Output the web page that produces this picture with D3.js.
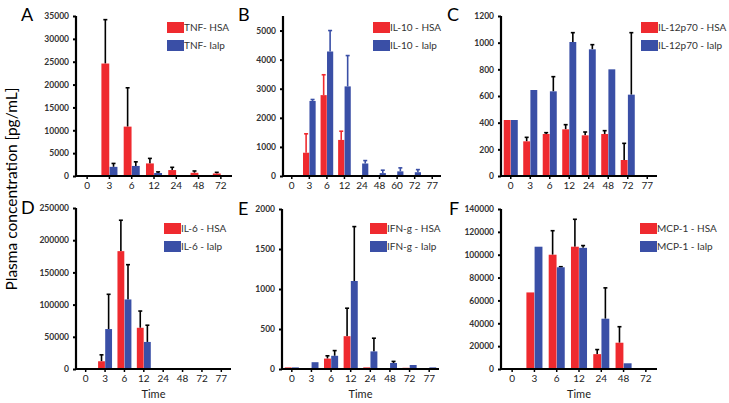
<!DOCTYPE html>
<html><head><meta charset="utf-8">
<script src="https://cdn.jsdelivr.net/npm/d3@7"></script>
<style>body{margin:0;background:#fff}svg{display:block}</style>
</head><body>
<svg id="c" width="729" height="403"></svg>
<script>
// ---- Data ----
const catsA = ["0","3","6","12","24","48","72"];
const tnfHSA = [0, 24600, 10800, 2750, 1300, 700, 550];
const tnfHSAErr = [0, 9600, 8500, 1100, 600, 400, 250];
const tnfIalp = [0, 2000, 2200, 650, 0, 0, 0];
const tnfIalpErr = [0, 750, 900, 250, 0, 0, 0];

const catsB = ["0","3","6","12","24","48","60","72","77"];
const il10HSA = [0, 800, 2780, 1240, 0, 0, 0, 0, 0];
const il10HSAErr = [0, 650, 700, 300, 0, 0, 0, 0, 0];
const il10Ialp = [0, 2580, 4280, 3080, 430, 100, 160, 130, 0];
const il10IalpErr = [0, 50, 720, 1060, 100, 100, 120, 90, 0];

const catsC = ["0","3","6","12","24","48","72","77"];
const il12HSA = [420, 260, 315, 350, 305, 315, 120, 0];
const il12HSAErr = [0, 30, 10, 35, 25, 25, 125, 0];
const il12Ialp = [420, 645, 635, 1005, 950, 800, 610, 0];
const il12IalpErr = [0, 0, 110, 70, 35, 0, 465, 0];

const catsD = ["0","3","6","12","24","48","72","77"];
const il6HSA = [0, 12000, 183000, 64000, 0, 0, 0, 0];
const il6HSAErr = [0, 10000, 48000, 26000, 0, 0, 0, 0];
const il6Ialp = [0, 62000, 108000, 42000, 0, 0, 0, 0];
const il6IalpErr = [0, 54000, 54000, 26000, 0, 0, 0, 0];

const catsE = ["0","3","6","12","24","48","72","77"];
const ifnHSA = [20, 10, 130, 410, 20, 10, 15, 0];
const ifnHSAErr = [0, 0, 35, 350, 0, 0, 0, 0];
const ifnIalp = [20, 85, 165, 1100, 220, 75, 50, 20];
const ifnIalpErr = [0, 0, 65, 680, 165, 20, 0, 0];

const catsF = ["0","3","6","12","24","48","72"];
const mcpHSA = [0, 67000, 100000, 107000, 13000, 23000, 500];
const mcpHSAErr = [0, 0, 21000, 24000, 4000, 14000, 0];
const mcpIalp = [0, 107000, 89000, 106000, 44000, 5000, 500];
const mcpIalpErr = [0, 0, 500, 2000, 27000, 0, 0];

const yTicksA = [0,5000,10000,15000,20000,25000,30000,35000];
const yTicksB = [0,1000,2000,3000,4000,5000];
const yTicksC = [0,200,400,600,800,1000,1200];
const yTicksD = [0,50000,100000,150000,200000,250000];
const yTicksE = [0,500,1000,1500,2000];
const yTicksF = [0,20000,40000,60000,80000,100000,120000,140000];

const RED = "#ef2a2f", BLUE = "#3a4fa6";
const FONT = "Lato, 'Open Sans', sans-serif";

const svg = d3.select("#c");

function panel(o){
  const g = svg.append("g");
  const x = d3.scaleBand().domain(o.cats).range([o.x0, o.x1]).paddingInner(0.28).paddingOuter(0.14);
  const sub = d3.scaleBand().domain(["h","i"]).range([0, x.bandwidth()]).paddingInner(0.04);
  const y = d3.scaleLinear().domain([0, o.ymax]).range([o.y0, o.yTop]);

  const series = [
    {k:"h", v:o.h, e:o.he, c:RED, ec:o.colorErr ? RED : "#000"},
    {k:"i", v:o.i, e:o.ie, c:BLUE, ec:o.colorErr ? BLUE : "#000"}
  ];
  series.forEach(s=>{
    const d = o.cats.map((c,j)=>({c, v:s.v[j], e:s.e[j]}));
    g.selectAll(null).data(d.filter(p=>p.e>0)).enter().append("line")
      .attr("x1", p=>x(p.c)+sub(s.k)+sub.bandwidth()/2)
      .attr("x2", p=>x(p.c)+sub(s.k)+sub.bandwidth()/2)
      .attr("y1", p=>y(p.v)).attr("y2", p=>y(p.v+p.e))
      .attr("stroke", s.ec).attr("stroke-width", 1.6);
    g.selectAll(null).data(d.filter(p=>p.e>0)).enter().append("line")
      .attr("x1", p=>x(p.c)+sub(s.k)+sub.bandwidth()/2-2)
      .attr("x2", p=>x(p.c)+sub(s.k)+sub.bandwidth()/2+2)
      .attr("y1", p=>y(p.v+p.e)).attr("y2", p=>y(p.v+p.e))
      .attr("stroke", s.ec).attr("stroke-width", 1.6);
    g.selectAll(null).data(d.filter(p=>p.v>0)).enter().append("rect")
      .attr("x", p=>x(p.c)+sub(s.k)).attr("width", sub.bandwidth())
      .attr("y", p=>y(p.v)).attr("height", p=>o.y0-y(p.v))
      .attr("fill", s.c);
  });

  const ya = g.append("g").attr("transform",`translate(${o.x0},0)`)
    .call(d3.axisLeft(y).tickValues(o.yt).tickSize(3).tickPadding(4).tickFormat(d3.format("d")));
  ya.select(".domain").attr("d", `M0,${o.y0}V${y(o.ymax)}`).attr("stroke-width",2.2).attr("stroke","#000");
  ya.selectAll(".tick line").attr("stroke-width",2).attr("stroke","#000");
  ya.selectAll("text").attr("font-family",FONT).attr("font-size",8.5).attr("font-weight","bold").attr("fill","#333");

  const xa = g.append("g").attr("transform",`translate(0,${o.y0})`)
    .call(d3.axisBottom(x).tickSize(3).tickPadding(3));
  xa.select(".domain").attr("d", `M${o.x0},0H${o.x1}`).attr("stroke-width",2.2).attr("stroke","#000");
  xa.selectAll(".tick line").attr("stroke-width",1.5).attr("stroke","#000");
  xa.selectAll("text").attr("font-family",FONT).attr("font-size",10).attr("fill","#222");

  g.append("text").attr("x",o.lx).attr("y",o.ly).text(o.letter)
    .attr("font-family",FONT).attr("font-size",18).attr("fill","#000");

  [[o.lh, RED],[o.li, BLUE]].forEach(([t,c],j)=>{
    const yy = o.legY + j*18;
    g.append("rect").attr("x",o.legX).attr("y",yy).attr("width",17).attr("height",11).attr("fill",c);
    g.append("text").attr("x",o.legX+17).attr("y",yy+9).text(t)
      .attr("font-family",FONT).attr("font-size",10).attr("fill","#333");
  });

  if(o.time){
    g.append("text").attr("x",(o.x0+o.x1)/2).attr("y",o.y0+29).attr("text-anchor","middle")
      .text("Time").attr("font-family",FONT).attr("font-size",11).attr("fill","#222");
  }
}

panel({cats:catsA, h:tnfHSA, he:tnfHSAErr, i:tnfIalp, ie:tnfIalpErr, ymax:35000, yt:yTicksA,
  x0:76, x1:232, y0:176, yTop:16, letter:"A", lx:21, ly:21, legX:167, legY:22, lh:"TNF- HSA", li:"TNF- Ialp"});
panel({cats:catsB, h:il10HSA, he:il10HSAErr, i:il10Ialp, ie:il10IalpErr, ymax:5500, yt:yTicksB,
  x0:283, x1:441, y0:176, yTop:16, letter:"B", lx:238, ly:21, legX:373, legY:22, lh:"IL-10 - HSA", li:"IL-10 - Ialp", colorErr:true});
panel({cats:catsC, h:il12HSA, he:il12HSAErr, i:il12Ialp, ie:il12IalpErr, ymax:1200, yt:yTicksC,
  x0:501, x1:657, y0:176, yTop:16, letter:"C", lx:447, ly:21, legX:641, legY:22, lh:"IL-12p70 - HSA", li:"IL-12p70 - Ialp"});
panel({cats:catsD, h:il6HSA, he:il6HSAErr, i:il6Ialp, ie:il6IalpErr, ymax:250000, yt:yTicksD,
  x0:76, x1:231, y0:369, yTop:208, letter:"D", lx:21, ly:214, legX:164, legY:223, lh:"IL-6 - HSA", li:"IL-6 - Ialp", time:true});
panel({cats:catsE, h:ifnHSA, he:ifnHSAErr, i:ifnIalp, ie:ifnIalpErr, ymax:2000, yt:yTicksE,
  x0:282, x1:439, y0:369, yTop:209, letter:"E", lx:238, ly:215, legX:370, legY:223, lh:"IFN-g - HSA", li:"IFN-g - Ialp", time:true});
panel({cats:catsF, h:mcpHSA, he:mcpHSAErr, i:mcpIalp, ie:mcpIalpErr, ymax:140000, yt:yTicksF,
  x0:501, x1:657, y0:369, yTop:209, letter:"F", lx:449, ly:215, legX:640, legY:223, lh:"MCP-1 - HSA", li:"MCP-1 - Ialp", time:true});

svg.append("text").attr("transform","translate(17,189) rotate(-90)").attr("text-anchor","middle")
  .text("Plasma concentration [pg/mL]").attr("font-family",FONT).attr("font-size",15.5).attr("fill","#000");
</script>
</body></html>
